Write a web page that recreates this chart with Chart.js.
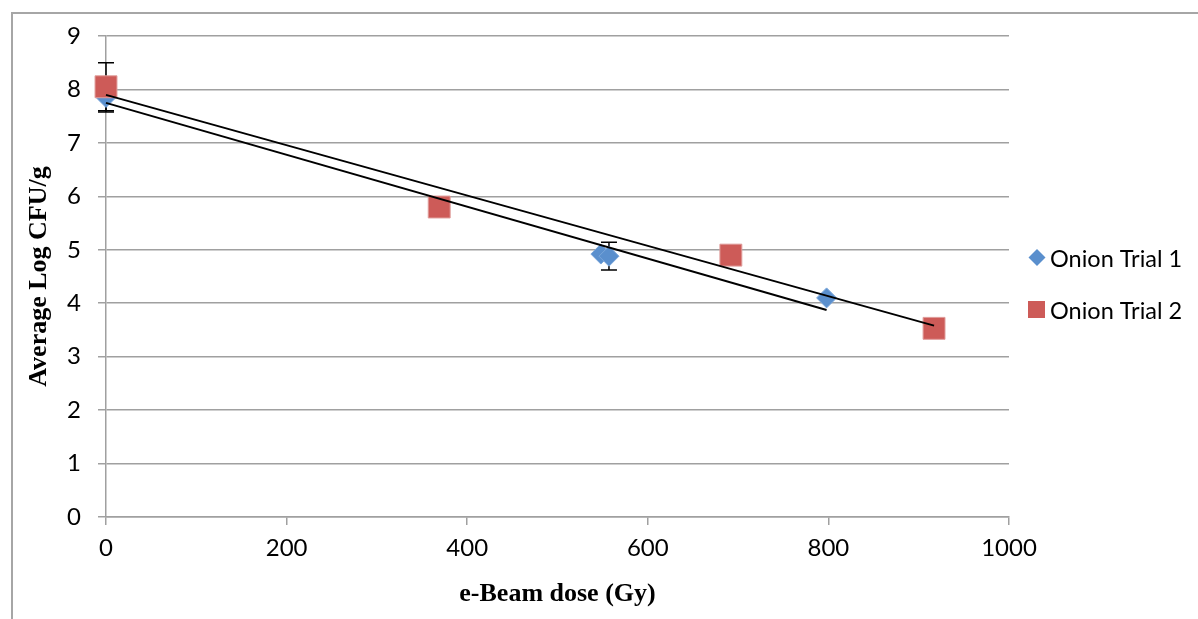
<!DOCTYPE html>
<html>
<head>
<meta charset="utf-8">
<script src="https://cdn.jsdelivr.net/npm/chart.js@4/dist/chart.umd.min.js"></script>
<style>
  body { margin: 0; background: #fff; }
  #wrap { position: relative; width: 1198px; height: 619px; }
  #frame { position: absolute; left: 11px; top: 12px; right: 0; bottom: 0; border-left: 2px solid #a6a6a6; border-top: 2px solid #a6a6a6; }
  canvas { position: absolute; left: 0; top: 0; }
</style>
</head>
<body>
<div id="wrap">
  <div id="frame"></div>
  <canvas id="chart" width="1198" height="619"></canvas>
</div>
<script>
// Onion trials: e-beam dose (Gy) vs average log CFU/g
const trial1Dose = [0, 548, 557, 798];
const trial1Log = [7.85, 4.92, 4.88, 4.1];
const trial1Err = [0.27, 0, 0.26, 0];

const trial2Dose = [0, 369, 692, 917];
const trial2Log = [8.05, 5.8, 4.9, 3.53];
const trial2Err = [0.45, 0, 0, 0];

const xTicks = [0, 200, 400, 600, 800, 1000];
const yTicks = [0, 1, 2, 3, 4, 5, 6, 7, 8, 9];

const blue = "#5a8fcd";
const red = "#cd5b58";

function toPoints(xs, ys) {
    return xs.map((x, i) => ({ x: x, y: ys[i] }));
}

// least squares trendline from 0 to last dose
function trend(xs, ys) {
    const n = xs.length;
    const mx = xs.reduce((a, b) => a + b, 0) / n;
    const my = ys.reduce((a, b) => a + b, 0) / n;
    let sxy = 0, sxx = 0;
    for (let i = 0; i < n; i++) {
        sxy += (xs[i] - mx) * (ys[i] - my);
        sxx += (xs[i] - mx) * (xs[i] - mx);
    }
    const m = sxy / sxx;
    const b = my - m * mx;
    const xEnd = Math.max(...xs);
    return [{ x: 0, y: b }, { x: xEnd, y: b + m * xEnd }];
}

// error bars drawn under the markers
const errorBars = {
    id: "errorBars",
    beforeDatasetsDraw(chart) {
        const ctx = chart.ctx;
        const xs = chart.scales.x, ys = chart.scales.y;
        const sets = [[trial1Dose, trial1Log, trial1Err], [trial2Dose, trial2Log, trial2Err]];
        ctx.save();
        ctx.strokeStyle = "#000";
        ctx.lineWidth = 1.5;
        sets.forEach(([dx, dy, de]) => {
            dx.forEach((d, i) => {
                if (!de[i]) return;
                const px = xs.getPixelForValue(d);
                const top = ys.getPixelForValue(dy[i] + de[i]);
                const bot = ys.getPixelForValue(dy[i] - de[i]);
                ctx.beginPath();
                ctx.moveTo(px, top); ctx.lineTo(px, bot);
                ctx.moveTo(px - 8, top); ctx.lineTo(px + 8, top);
                ctx.moveTo(px - 8, bot); ctx.lineTo(px + 8, bot);
                ctx.stroke();
            });
        });
        ctx.restore();
    }
};

// legend on the right, drawn by hand
const sideLegend = {
    id: "sideLegend",
    afterDraw(chart) {
        const ctx = chart.ctx;
        ctx.save();
        ctx.font = "23.5px Lato";
        ctx.textBaseline = "middle";
        // diamond
        ctx.fillStyle = blue;
        ctx.beginPath();
        ctx.moveTo(1037, 249); ctx.lineTo(1045.5, 257.5); ctx.lineTo(1037, 266); ctx.lineTo(1028.5, 257.5);
        ctx.closePath();
        ctx.fill();
        // square
        ctx.fillStyle = red;
        ctx.fillRect(1028, 301, 17, 17);
        ctx.fillStyle = "#000";
        ctx.fillText("Onion Trial 1", 1050, 259);
        ctx.fillText("Onion Trial 2", 1050, 311);
        ctx.restore();
    }
};

new Chart(document.getElementById("chart"), {
    type: "scatter",
    data: {
        datasets: [
            {
                label: "Onion Trial 1",
                data: toPoints(trial1Dose, trial1Log),
                pointStyle: "rectRot",
                pointRadius: 10,
                backgroundColor: blue,
                borderColor: "#7aa6da",
                borderWidth: 1,
                clip: false,
                order: 3
            },
            {
                label: "Onion Trial 2",
                data: toPoints(trial2Dose, trial2Log),
                pointStyle: "rect",
                pointRadius: 15.5,
                backgroundColor: red,
                borderColor: "#e09d9b",
                borderWidth: 1,
                clip: false,
                order: 2
            },
            {
                label: "Trend 1",
                type: "line",
                data: trend(trial1Dose, trial1Log),
                borderColor: "#000",
                borderWidth: 2,
                pointRadius: 0,
                fill: false,
                clip: false,
                order: 1
            },
            {
                label: "Trend 2",
                type: "line",
                data: trend(trial2Dose, trial2Log),
                borderColor: "#000",
                borderWidth: 2,
                pointRadius: 0,
                fill: false,
                clip: false,
                order: 1
            }
        ]
    },
    options: {
        responsive: false,
        animation: false,
        layout: { padding: { top: 36, right: 189, bottom: 0, left: 0 } },
        plugins: {
            legend: { display: false },
            tooltip: { enabled: false }
        },
        scales: {
            x: {
                type: "linear",
                min: 0,
                max: 1000,
                afterBuildTicks: (axis) => { axis.ticks = xTicks.map(v => ({ value: v })); },
                afterFit: (axis) => { axis.height = 102; },
                grid: { drawOnChartArea: false, drawTicks: true, tickLength: 8, color: "#a0a0a0", lineWidth: 1.5 },
                border: { color: "#a0a0a0", width: 1.5 },
                ticks: { color: "#000", font: { family: "Lato", size: 24 }, padding: 9, callback: (v) => String(v) },
                title: {
                    display: true,
                    text: "e-Beam dose (Gy)",
                    color: "#000",
                    font: { family: "Liberation Serif", size: 26, weight: "bold" },
                    padding: { top: 0, bottom: 9 }
                }
            },
            y: {
                min: 0,
                max: 9,
                afterBuildTicks: (axis) => { axis.ticks = yTicks.map(v => ({ value: v })); },
                afterFit: (axis) => { axis.width = 106; },
                grid: { drawTicks: true, tickLength: 8, color: "#a0a0a0", lineWidth: 1.5 },
                border: { color: "#a0a0a0", width: 1.5 },
                ticks: { color: "#000", font: { family: "Lato", size: 24 }, padding: 17, callback: (v) => String(v) },
                title: {
                    display: true,
                    text: "Average Log CFU/g",
                    color: "#000",
                    font: { family: "Liberation Serif", size: 26, weight: "bold" },
                    padding: { top: 24, bottom: 0 }
                }
            }
        }
    },
    plugins: [errorBars, sideLegend]
});
</script>
</body>
</html>
